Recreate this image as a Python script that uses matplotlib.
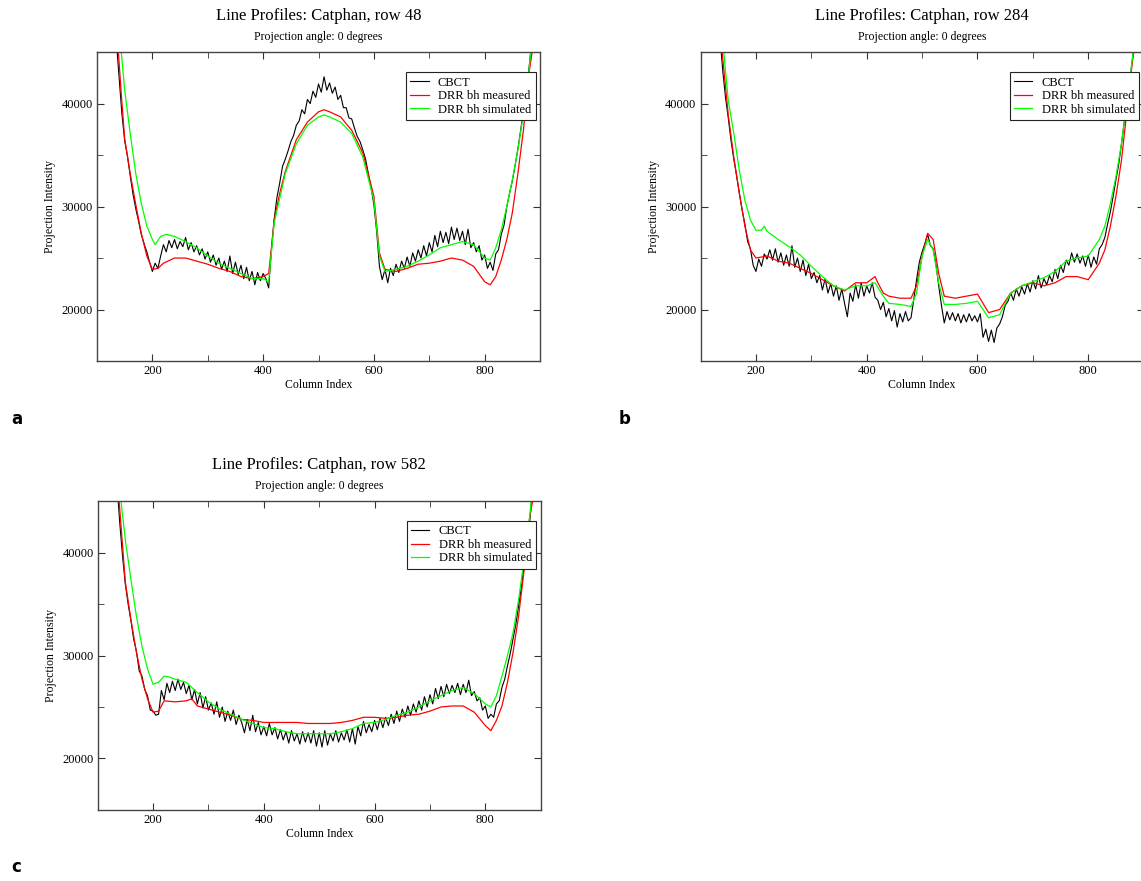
import numpy as np
import matplotlib
matplotlib.use('Agg')
import matplotlib.pyplot as plt
from matplotlib.ticker import MultipleLocator

plt.rcParams['font.family'] = 'Liberation Serif'

# CBCT profiles are sampled every 5 columns
cbct_cols = np.arange(135, 890, 5)

# ---- row 48 ----
cbct_row48 = [46000, 42500, 39000, 36400, 34900, 33000, 31200, 29800, 28600, 27300,
              26400, 25600, 24600, 23700, 24500, 24000, 25200, 26300, 25600, 26700,
              26000, 26800, 25900, 26600, 26100, 27000, 25800, 26500, 25600, 26200,
              25300, 25900, 24900, 25600, 24600, 25300, 24300, 25000, 23900, 24700,
              23700, 25200, 23500, 24600, 23400, 24300, 23000, 24100, 22800, 23700,
              22400, 23600, 22800, 23500, 23000, 22100, 25800, 28800, 30900, 32300,
              33900, 34600, 35400, 36300, 36900, 37900, 38300, 39400, 39000, 40400,
              40000, 41200, 40600, 41900, 41100, 42600, 41300, 42000, 41000, 41600,
              40400, 40800, 39600, 39600, 38600, 38500, 37600, 36800, 36300, 35500,
              34600, 33200, 31800, 30200, 27600, 24200, 22900, 23900, 22600, 24000,
              23300, 24400, 23600, 24700, 24000, 25100, 24200, 25500, 24700, 25800,
              25000, 26200, 25200, 26500, 25600, 27200, 26100, 27600, 26500, 27500,
              26400, 28000, 26800, 27900, 26700, 27600, 26300, 27800, 26000, 26500,
              25600, 26200, 24800, 25300, 24000, 24600, 23800, 25400, 25800, 27300,
              28200, 30000, 31300, 32500, 34000, 35600, 37400, 39300, 41200, 43400,
              46000]
meas_cols_row48 = [138, 144, 150, 160, 170, 180, 190, 200, 210, 220,
                   240, 260, 280, 300, 320, 340, 360, 380, 400, 410,
                   415, 420, 430, 440, 460, 480, 500, 510, 520, 540,
                   560, 580, 600, 610, 620, 640, 660, 680, 700, 720,
                   740, 760, 780, 800, 810, 820, 830, 840, 850, 860,
                   870, 880, 887]
meas_row48 = [45500, 40800, 36600, 33200, 30200, 27400, 25200, 23900, 24000, 24500,
              25000, 25000, 24700, 24400, 24000, 23700, 23200, 23000, 23200, 23500,
              26000, 28700, 31300, 33400, 36500, 38200, 39200, 39400, 39200, 38700,
              37400, 35200, 31000, 25500, 23900, 23700, 24000, 24400, 24500, 24700,
              25000, 24800, 24200, 22700, 22400, 23200, 24800, 26800, 29400, 33200,
              37400, 42900, 45500]
sim_cols_row48 = [143, 150, 160, 170, 180, 190, 200, 205, 215, 225,
                  240, 260, 280, 300, 320, 340, 360, 380, 400, 410,
                  420, 440, 460, 480, 500, 510, 520, 540, 560, 580,
                  600, 610, 620, 640, 660, 680, 700, 720, 740, 760,
                  780, 800, 810, 820, 830, 840, 850, 860, 870, 880,
                  884]
sim_row48 = [45500, 41300, 37100, 33200, 30300, 28100, 26800, 26300, 27100, 27300,
             27100, 26600, 26000, 25200, 24500, 24000, 23500, 23000, 23000, 22700,
             28400, 33200, 36100, 37900, 38700, 38900, 38700, 38200, 37100, 34800,
             30600, 25200, 23700, 23900, 24200, 24700, 25300, 26000, 26300, 26600,
             26300, 25000, 24800, 26000, 27700, 30000, 32600, 35500, 39000, 43200,
             45500]

# ---- row 284 ----
cbct_row284 = [46500, 43200, 40600, 38600, 36400, 34600, 33000, 31300, 29700, 28300,
               26600, 25900, 24300, 23700, 24900, 24200, 25400, 24900, 25800, 24800,
               25900, 24600, 25500, 24300, 25300, 24200, 26200, 24100, 25000, 23700,
               24800, 23300, 24400, 23000, 23600, 22600, 23300, 21900, 23000, 21600,
               22500, 21300, 22300, 20900, 22000, 20600, 19300, 21600, 20800, 22400,
               21100, 22600, 21300, 22300, 21600, 22600, 21200, 20900, 20000, 20700,
               19300, 20100, 18900, 19900, 18300, 19600, 18800, 19800, 18900, 19200,
               21000, 22900, 24600, 25600, 26400, 27300, 26200, 25900, 24400, 22300,
               20400, 18700, 19800, 19000, 19700, 18900, 19600, 18700, 19500, 18800,
               19600, 18900, 19400, 18800, 19600, 17300, 18100, 16900, 18000, 16800,
               18200, 18600, 19300, 20400, 20800, 21600, 20900, 22000, 21300, 22200,
               21500, 22500, 21700, 22800, 22000, 23300, 22100, 23000, 22400, 23300,
               22700, 23900, 23000, 24300, 23600, 24800, 24300, 25500, 24600, 25400,
               24500, 25200, 24200, 25300, 24100, 25100, 24400, 25900, 26300, 27000,
               28300, 29500, 31000, 32600, 34100, 36100, 38200, 40400, 42200, 44400,
               46500]
meas_cols_row284 = [138, 150, 160, 170, 180, 190, 200, 220, 240, 260,
                    280, 300, 320, 340, 360, 380, 400, 415, 420, 430,
                    440, 460, 480, 490, 500, 510, 520, 530, 540, 560,
                    580, 600, 610, 620, 640, 660, 680, 700, 720, 740,
                    760, 780, 800, 820, 830, 840, 850, 860, 870, 880,
                    884]
meas_row284 = [45500, 38900, 34800, 31300, 28100, 25800, 25000, 25200, 24700, 24500,
               24000, 23500, 22900, 22300, 21800, 22600, 22600, 23200, 22600, 21600,
               21300, 21100, 21100, 22300, 25200, 27400, 26800, 23500, 21300, 21100,
               21300, 21500, 20600, 19700, 20000, 21600, 22300, 22600, 22300, 22600,
               23200, 23200, 22900, 24500, 25800, 28100, 31000, 34500, 39400, 44200,
               45500]
sim_cols_row284 = [141, 150, 160, 170, 180, 190, 200, 210, 215, 220,
                   240, 260, 280, 300, 320, 340, 360, 380, 400, 415,
                   430, 440, 460, 480, 490, 500, 510, 520, 530, 540,
                   560, 580, 600, 610, 620, 640, 660, 680, 700, 720,
                   740, 760, 780, 800, 820, 830, 840, 850, 860, 870,
                   880, 883]
sim_row284 = [45500, 40300, 37100, 33500, 30600, 28700, 27700, 27700, 28100, 27600,
              26800, 26100, 25300, 24200, 23200, 22300, 21900, 22300, 22300, 22600,
              21300, 20600, 20500, 20300, 21600, 25200, 26800, 25800, 22600, 20500,
              20500, 20600, 20800, 20000, 19200, 19500, 21600, 22300, 22700, 23100,
              23700, 24700, 25000, 25200, 26800, 28100, 30300, 32900, 36100, 40300,
              44500, 45500]

# ---- row 582 ----
cbct_row582 = [46500, 42800, 39600, 36900, 35000, 33400, 31600, 30400, 28500, 28000,
               26700, 26100, 24700, 24600, 24200, 24300, 26600, 25700, 27300, 26400,
               27500, 26600, 27700, 26700, 27400, 26300, 27100, 25700, 26700, 25300,
               26400, 24900, 26000, 24700, 25400, 24300, 25500, 24000, 25000, 23600,
               24600, 23700, 24700, 23300, 24200, 23500, 22500, 23800, 22700, 24200,
               22600, 23500, 22300, 23100, 22200, 23400, 22300, 23000, 21900, 22800,
               21800, 22600, 21500, 22700, 21700, 22400, 21400, 22600, 21600, 22500,
               21500, 22700, 21200, 22500, 21100, 22700, 21300, 22400, 21700, 22700,
               21600, 22500, 21800, 22800, 21600, 22900, 21400, 23100, 22200, 23600,
               22500, 23300, 22600, 23700, 22800, 23900, 23000, 24000, 23200, 24300,
               23400, 24600, 23600, 24800, 24000, 25100, 24200, 25300, 24500, 25600,
               24700, 26000, 25000, 26200, 25300, 26800, 25800, 27000, 26000, 27200,
               26300, 27100, 26400, 27300, 26200, 27200, 26400, 27600, 26100, 26500,
               25600, 25900, 24700, 25100, 23900, 24300, 24000, 25300, 25600, 26900,
               27700, 29000, 30200, 31600, 33000, 34800, 36600, 38700, 40600, 42900,
               46000]
meas_cols_row582 = [138, 150, 160, 170, 180, 190, 200, 210, 220, 240,
                    260, 270, 280, 300, 320, 340, 360, 380, 400, 420,
                    440, 460, 480, 500, 520, 540, 560, 580, 600, 620,
                    640, 660, 680, 700, 720, 740, 760, 780, 800, 810,
                    820, 830, 840, 850, 860, 870, 880, 887]
meas_row582 = [45500, 37100, 33500, 30300, 27700, 25800, 24500, 24600, 25600, 25500,
               25600, 25800, 25100, 24800, 24500, 24200, 23800, 23700, 23500, 23500,
               23500, 23500, 23400, 23400, 23400, 23500, 23700, 24000, 24000, 23900,
               24000, 24200, 24300, 24600, 25000, 25100, 25100, 24500, 23200, 22700,
               23700, 25100, 27400, 30300, 33800, 38300, 43400, 45500]
sim_cols_row582 = [141, 150, 160, 170, 180, 190, 200, 210, 220, 230,
                   240, 260, 280, 300, 320, 340, 360, 380, 400, 420,
                   440, 460, 480, 500, 520, 540, 560, 580, 600, 620,
                   640, 660, 680, 700, 720, 740, 760, 780, 800, 810,
                   820, 830, 840, 850, 860, 870, 880, 884]
sim_row582 = [45500, 41200, 37400, 33800, 30900, 28700, 27200, 27400, 28000, 27900,
              27700, 27400, 26400, 25500, 24800, 24300, 23800, 23400, 23000, 22900,
              22600, 22400, 22400, 22400, 22400, 22600, 22900, 23400, 23500, 23800,
              24200, 24500, 25000, 25600, 26100, 26600, 26900, 26300, 25300, 25000,
              26100, 28000, 30000, 32200, 35400, 39300, 43500, 45500]


def draw_panel(ax, row, cbct, mx, my, sx, sy):
    ax.plot(cbct_cols, cbct, color='black', lw=0.8, label='CBCT')
    ax.plot(mx, my, color='#ff0000', lw=0.9, label='DRR bh measured')
    ax.plot(sx, sy, color='#00ff00', lw=0.9, label='DRR bh simulated')
    ax.set_xlim(100, 900)
    ax.set_ylim(15000, 45000)
    ax.xaxis.set_major_locator(MultipleLocator(200))
    ax.xaxis.set_minor_locator(MultipleLocator(100))
    ax.yaxis.set_major_locator(MultipleLocator(10000))
    ax.yaxis.set_minor_locator(MultipleLocator(5000))
    ax.tick_params(which='both', direction='in', top=True, right=True,
                   labelsize=9, pad=3, color='#333333')
    ax.tick_params(which='major', length=5)
    ax.tick_params(which='minor', length=4)
    for s in ax.spines.values():
        s.set_color('#444444')
        s.set_linewidth(1)
    ax.set_xlabel('Column Index', fontsize=8.5, labelpad=1)
    ax.set_ylabel('Projection Intensity', fontsize=8.5, labelpad=4)
    ax.text(0.5, 1.118, 'Line Profiles: Catphan, row %d' % row,
            transform=ax.transAxes, ha='center', va='center', fontsize=12)
    ax.text(0.5, 1.049, 'Projection angle: 0 degrees',
            transform=ax.transAxes, ha='center', va='center', fontsize=8.5)
    leg = ax.legend(loc='upper right', bbox_to_anchor=(0.99, 0.935),
                    borderaxespad=0, fontsize=9, fancybox=False,
                    framealpha=1, edgecolor='#222222', labelspacing=0.12,
                    handlelength=1.45, handletextpad=0.75, borderpad=0.35)
    leg.get_frame().set_linewidth(0.8)


fig = plt.figure(figsize=(11.41, 8.81), dpi=100)
ax_a = fig.add_axes([0.0850, 0.5902, 0.3883, 0.3507])
ax_b = fig.add_axes([0.6140, 0.5902, 0.3883, 0.3507])
ax_c = fig.add_axes([0.0856, 0.0806, 0.3883, 0.3507])

draw_panel(ax_a, 48, cbct_row48, meas_cols_row48, meas_row48, sim_cols_row48, sim_row48)
draw_panel(ax_b, 284, cbct_row284, meas_cols_row284, meas_row284, sim_cols_row284, sim_row284)
draw_panel(ax_c, 582, cbct_row582, meas_cols_row582, meas_row582, sim_cols_row582, sim_row582)

fig.text(0.010, 0.524, 'a', fontsize=12, fontweight='bold', family='DejaVu Sans', va='center')
fig.text(0.542, 0.524, 'b', fontsize=12, fontweight='bold', family='DejaVu Sans', va='center')
fig.text(0.010, 0.016, 'c', fontsize=12, fontweight='bold', family='DejaVu Sans', va='center')

fig.savefig('out.png', dpi=100)
